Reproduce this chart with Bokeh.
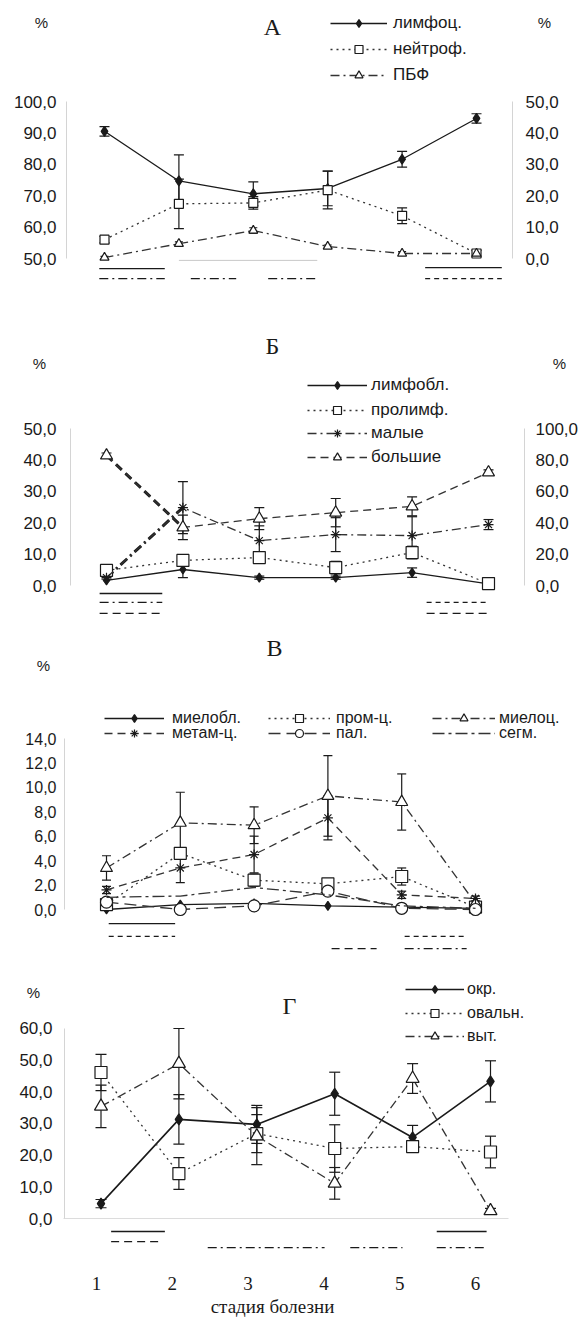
from bokeh.plotting import figure
from bokeh.models import (Range1d, LinearAxis, FixedTicker, CustomJSTickFormatter, Whisker, TeeHead,
                          ColumnDataSource, Legend, LegendItem, Label)
from bokeh.layouts import column
from bokeh.embed import file_html
from bokeh.resources import INLINE

# ---------------- DATA ----------------
stages = [1, 2, 3, 4, 5, 6]
x_tick_labels = ["1", "2", "3", "4", "5", "6"]

# Panel A (left axis 50-100 / right axis 0-50)
a_labels = ["лимфоц.", "нейтроф.", "ПБФ"]
a_lymph = [90.5, 74.7, 70.6, 72.3, 81.6, 94.6]
a_lymph_err = [1.5, 8.3, 3.8, 5.5, 2.5, 1.5]
a_neut = [6.0, 17.4, 17.7, 21.8, 13.6, 1.6]
a_neut_err = [1.0, 7.9, 2.0, 6.0, 2.5, 1.0]
a_pbf = [0.3, 4.7, 8.9, 3.8, 1.6, 1.6]
a_pbf_err = [0.4, 0.6, 0.9, 0.5, 0.6, 0.5]
a_left_ticks = [50, 60, 70, 80, 90, 100]
a_right_ticks = [0, 10, 20, 30, 40, 50]
a_sig_x0 = [0.93, 0.93, 2.16, 3.20, 5.31, 5.31]
a_sig_x1 = [1.81, 1.81, 2.77, 3.88, 6.34, 6.34]
a_sig_y = [46.8, 43.6, 43.6, 43.6, 47.1, 43.6]
a_sig_style = ["solid", "dashdot", "dashdot", "dashdot", "solid", "shortdash"]
a_base_x = [2.0, 3.86]
a_base_y = 49.4

# Panel B (left axis 0-50 / right axis 0-100)
b_labels = ["лимфобл.", "пролимф.", "малые", "большие"]
b_lymphobl = [1.6, 5.1, 2.5, 2.5, 4.1, 0.5]
b_lymphobl_err = [0, 2.6, 0.5, 0.5, 1.5, 0]
b_prolymph = [4.8, 8.0, 8.9, 5.7, 10.5, 0.6]
b_prolymph_err = [0.5, 1.5, 1.5, 2.0, 2.0, 0]
b_small = [2.5, 24.8, 14.3, 16.2, 15.9, 19.4]
b_small_err = [0.5, 8.3, 4.7, 5.4, 6.0, 1.6]
b_large = [41.4, 18.5, 21.3, 23.2, 25.2, 36.0]
b_large_err = [0.8, 3.9, 3.5, 4.5, 3.0, 0.8]
b_left_ticks = [0, 10, 20, 30, 40, 50]
b_right_ticks = [0, 20, 40, 60, 80, 100]
b_sig_x0 = [0.91, 0.91, 0.91, 5.19, 5.19]
b_sig_x1 = [1.73, 1.73, 1.73, 6.0, 6.0]
b_sig_y = [-2.55, -5.4, -8.9, -5.4, -8.9]
b_sig_style = ["solid", "dashdot", "dashed", "shortdash", "dashed"]

# Panel C (0-14)
c_labels = ["миелобл.", "пром-ц.", "миелоц.", "метам-ц.", "пал.", "сегм."]
c_myelobl = [0.0, 0.4, 0.5, 0.3, 0.2, 0.1]
c_prom = [0.4, 4.6, 2.4, 2.1, 2.7, 0.2]
c_prom_err = [0.3, 0.3, 0.5, 0.3, 0.7, 0]
c_myeloc = [3.4, 7.1, 6.9, 9.3, 8.8, 0.5]
c_myeloc_err = [1.0, 2.5, 1.5, 3.3, 2.3, 0]
c_metam = [1.6, 3.4, 4.5, 7.5, 1.2, 0.9]
c_metam_err = [0.3, 1.2, 1.5, 1.8, 0.3, 0.2]
c_pal = [0.6, 0.0, 0.3, 1.5, 0.1, 0.0]
c_segm = [1.0, 1.1, 1.8, 1.2, 0.3, 0.1]
c_ticks = [0, 2, 4, 6, 8, 10, 12, 14]
c_sig_x0 = [1.03, 1.03, 5.04, 4.05, 5.04]
c_sig_x1 = [1.93, 1.93, 5.88, 4.66, 5.88]
c_sig_y = [-1.15, -2.2, -2.2, -3.2, -3.2]
c_sig_style = ["solid", "shortdash", "shortdash", "dashed", "dashdot"]

# Panel D (0-60)
d_labels = ["окр.", "овальн.", "выт."]
d_round = [4.7, 31.3, 29.7, 39.4, 25.6, 43.3]
d_round_err = [1.3, 7.8, 6.0, 6.8, 3.8, 6.5]
d_oval = [46.1, 14.2, 26.8, 22.1, 22.7, 21.0]
d_oval_err = [5.7, 5.0, 6.0, 7.5, 1.5, 5.0]
d_elong = [35.4, 48.9, 26.0, 11.1, 44.2, 2.4]
d_elong_err = [6.7, 11.1, 9.0, 5.0, 4.7, 0.8]
d_ticks = [0, 10, 20, 30, 40, 50, 60]
d_sig_x0 = [1.13, 1.13, 2.37, 4.20, 5.31, 5.31]
d_sig_x1 = [1.82, 1.76, 3.87, 4.87, 5.95, 5.95]
d_sig_y = [-4.1, -7.3, -9.2, -9.2, -4.1, -9.2]
d_sig_style = ["solid", "dashed", "dashdot", "dashdot", "solid", "dashdot"]

# ---------------- STYLE ----------------
K = "#1a1a1a"
G = "#333333"
FS = "Liberation Sans"
SERIF = "Liberation Serif"
W = 584
PL, PR = 0, 584   # page x of the figure edges (bokeh page has no body margin)
DASH = {"solid": "solid", "dotted": "2 4", "dashed": "8 5", "shortdash": "5 4",
        "dashdot": "9 4 2 4", "longdash": "12 6", "dashdot2": "12 4 3 4"}


class Panel:
    def __init__(self, T, H, s1, k, v0, y0, m):
        self.T, self.H, self.B = T, H, T + H
        self.s1, self.k, self.v0, self.y0, self.m = s1, k, v0, y0, m
        xr = (1 - (s1 - PL) / k, 1 + (PR - s1) / k)
        yr = (v0 - (self.B - y0) / m, v0 + (y0 - T) / m)
        p = figure(width=W, height=H, output_backend="svg", toolbar_location=None,
                   x_range=Range1d(*xr), y_range=Range1d(*yr),
                   x_axis_location=None, y_axis_location="left")
        p.min_border_left = 0
        p.min_border_right = 0
        p.min_border_top = 0
        p.min_border_bottom = 0
        p.outline_line_color = None
        p.grid.visible = False
        p.background_fill_color = "white"
        p.border_fill_color = "white"
        self.p = p

    def xd(self, px):  # page x -> stage coordinate (for axis placement)
        return 1 + (px - self.s1) / self.k

    def yd(self, py):  # page y -> value coordinate (for axis placement)
        return self.v0 + (self.y0 - py) / self.m

    def txt(self, x, y, text, font=FS, size=15, align="center"):
        self.p.add_layout(Label(x=x - PL, y=self.B - y, x_units="screen", y_units="screen", text=text,
                                text_font=font, text_font_size=f"{size}px", text_align=align,
                                text_baseline="middle", text_color=K))

    def leg(self, label, renderers, gx0, gw, yc, standoff, size, h=20):
        lg = Legend(items=[LegendItem(label=label, renderers=renderers)],
                    location=(gx0 - PL, self.B - (yc + h / 2)), orientation="vertical",
                    padding=0, margin=0, spacing=0, glyph_width=gw, glyph_height=h,
                    label_height=h, label_standoff=standoff, label_text_font=FS,
                    label_text_font_size=f"{size}px", label_text_color=K,
                    border_line_color=None, background_fill_alpha=0)
        self.p.add_layout(lg)


def style_axis(ax, ticks, size, standoff):
    ax.ticker = FixedTicker(ticks=ticks)
    ax.formatter = CustomJSTickFormatter(code="return tick.toFixed(1).replace('.', ',');")
    ax.major_tick_line_color = None
    ax.minor_tick_line_color = None
    ax.major_tick_out = 0
    ax.major_tick_in = 0
    ax.axis_line_color = "#d4d4d4"
    ax.bounds = (min(ticks), max(ticks))
    ax.major_label_text_font = FS
    ax.major_label_text_font_size = f"{size}px"
    ax.major_label_text_color = K
    ax.major_label_standoff = standoff


def whisk(p, xs, ys, errs, head=10, y_range_name="default", lw=1.2):
    pts = [(x, y, e) for x, y, e in zip(xs, ys, errs) if e > 0]
    src = ColumnDataSource(dict(x=[q[0] for q in pts], u=[q[1] + q[2] for q in pts],
                                l=[q[1] - q[2] for q in pts]))
    w = Whisker(source=src, base="x", upper="u", lower="l", dimension="height",
                line_color=K, line_width=lw,
                upper_head=TeeHead(size=head, line_color=K, line_width=lw),
                lower_head=TeeHead(size=head, line_color=K, line_width=lw),
                y_range_name=y_range_name)
    p.add_layout(w)


def sig(p, x0, x1, y, styles, color=K, lw=1.3):
    for st in dict.fromkeys(styles):
        idx = [i for i, s in enumerate(styles) if s == st]
        p.segment([x0[i] for i in idx], [y[i] for i in idx], [x1[i] for i in idx], [y[i] for i in idx],
                  line_color=color, line_width=lw, line_dash=DASH[st])


def series(p, ys, dash, marker, size, fill, lw=1.3, color=K, rname="default"):
    ln = p.line(stages, ys, line_color=color, line_width=lw, line_dash=DASH[dash], y_range_name=rname)
    sc = p.scatter(stages, ys, marker=marker, size=size, fill_color=fill, line_color=K,
                   line_width=1.2, y_range_name=rname)
    return ln, sc


# ---------------- PANEL A ----------------
A = Panel(0, 300, 104, 74.4, 50, 258, 3.14)
pA = A.p
ra = pA.y_range
pA.extra_y_ranges = {"r": Range1d(ra.start - 50, ra.end - 50)}
style_axis(pA.yaxis[0], a_left_ticks, 17, 10)
pA.yaxis[0].fixed_location = A.xd(66)
axr = LinearAxis(y_range_name="r", fixed_location=A.xd(512))
style_axis(axr, a_right_ticks, 17, 13)
pA.add_layout(axr, "right")

sig(pA, a_sig_x0, a_sig_x1, a_sig_y, a_sig_style)
pA.segment([a_base_x[0]], [a_base_y], [a_base_x[1]], [a_base_y], line_color="#c8c8c8", line_width=1)
whisk(pA, stages, a_lymph, a_lymph_err, head=10)
whisk(pA, stages, a_neut, a_neut_err, head=10, y_range_name="r")
whisk(pA, stages, a_pbf, a_pbf_err, head=8, y_range_name="r")
lA1 = series(pA, a_lymph, "solid", "diamond", 10, K)
lA2 = series(pA, a_neut, "dotted", "square", 9, "white", color=G, rname="r")
lA3 = series(pA, a_pbf, "dashdot", "triangle", 9, "white", color=G, rname="r")
for lab, r, yc in zip(a_labels, [lA1, lA2, lA3], [23, 49, 75]):
    A.leg(lab, list(r), 330, 57, yc, 6, 17)
A.txt(41, 22, "%")
A.txt(544, 22, "%")
A.txt(272, 26, "А", font=SERIF, size=24)

# ---------------- PANEL B ----------------
B = Panel(300, 320, 106, 76.4, 0, 585, 3.14)
pB = B.p
rb = pB.y_range
pB.extra_y_ranges = {"r": Range1d(rb.start * 2, rb.end * 2)}
style_axis(pB.yaxis[0], b_left_ticks, 17, 14)
pB.yaxis[0].fixed_location = B.xd(70)
bxr = LinearAxis(y_range_name="r", fixed_location=B.xd(524))
style_axis(bxr, b_right_ticks, 17, 11)
pB.add_layout(bxr, "right")

sig(pB, b_sig_x0, b_sig_x1, b_sig_y, b_sig_style)
whisk(pB, stages, b_lymphobl, b_lymphobl_err)
whisk(pB, stages, b_prolymph, b_prolymph_err)
whisk(pB, stages, b_small, b_small_err)
whisk(pB, stages, b_large, b_large_err)
# heavier first segment as in the scan
pB.line(stages[:2], b_large[:2], line_color=K, line_width=3, line_dash=DASH["dashed"])
pB.line(stages[:2], b_small[:2], line_color=K, line_width=3, line_dash=DASH["dashdot"])
lB1 = series(pB, b_lymphobl, "solid", "diamond", 9, K)
lB2 = series(pB, b_prolymph, "dotted", "square", 12, "white", color=G)
lB3 = series(pB, b_small, "dashdot", "asterisk", 10, "white", color=G)
lB4 = series(pB, b_large, "dashed", "triangle", 12, "white", color=G)
for lab, r, yc in zip(b_labels, [lB1, lB2, lB3, lB4], [385, 410, 433, 457]):
    B.leg(lab, list(r), 307, 60, yc, 4, 17)
B.txt(39, 363, "%")
B.txt(559, 363, "%")
B.txt(272, 345, "Б", font=SERIF, size=24)

# ---------------- PANEL C ----------------
C = Panel(620, 340, 106, 73.8, 0, 909, 12.214)
pC = C.p
style_axis(pC.yaxis[0], c_ticks, 16, 8)
pC.yaxis[0].fixed_location = C.xd(64)

sig(pC, c_sig_x0, c_sig_x1, c_sig_y, c_sig_style)
whisk(pC, stages, c_prom, c_prom_err, head=9)
whisk(pC, stages, c_myeloc, c_myeloc_err, head=9)
whisk(pC, stages, c_metam, c_metam_err, head=9)
lC1 = series(pC, c_myelobl, "solid", "diamond", 9, K)
lC2 = series(pC, c_prom, "dotted", "square", 12, "white", color=G)
lC3 = series(pC, c_myeloc, "dashdot", "triangle", 12, "white", color=G)
lC4 = series(pC, c_metam, "dashed", "asterisk", 10, "white", color=G)
lC5 = series(pC, c_pal, "longdash", "circle", 12, "white", color=G)
lC6 = (pC.line(stages, c_segm, line_color=G, line_width=1.3, line_dash=DASH["dashdot2"]),)
c_leg_x = [104, 268, 432, 104, 268, 432]
c_leg_w = [60, 62, 63, 60, 62, 63]
c_leg_so = [8, 6, 4, 8, 6, 4]
c_leg_y = [718, 718, 718, 733, 733, 733]
for lab, r, gx, gw, so, yc in zip(c_labels, [lC1, lC2, lC3, lC4, lC5, lC6], c_leg_x, c_leg_w, c_leg_so, c_leg_y):
    C.leg(lab, list(r), gx, gw, yc, so, 16)
C.txt(43, 665, "%")
C.txt(274, 647, "В", font=SERIF, size=24)

# ---------------- PANEL D ----------------
D = Panel(960, 359, 100.5, 77.9, 0, 1218, 3.1667)
pD = D.p
style_axis(pD.yaxis[0], d_ticks, 17, 12)
pD.yaxis[0].fixed_location = D.xd(64)
lab_k = 75.8
lab_s1 = 96
pD.extra_x_ranges = {"lab": Range1d(1 - (lab_s1 - PL) / lab_k, 1 + (PR - lab_s1) / lab_k)}
xa = LinearAxis(x_range_name="lab", fixed_location=D.yd(1251))
xa.ticker = FixedTicker(ticks=stages)
xa.major_label_overrides = {s: t for s, t in zip(stages, x_tick_labels)}
xa.major_tick_line_color = None
xa.minor_tick_line_color = None
xa.major_tick_out = 0
xa.major_tick_in = 0
xa.axis_line_color = None
xa.major_label_text_font = SERIF
xa.major_label_text_font_size = "19px"
xa.major_label_text_color = K
xa.major_label_standoff = 25
pD.add_layout(xa, "below")
pD.segment([D.xd(63)], [0], [D.xd(508)], [0], line_color="#dcdcdc", line_width=1)

sig(pD, d_sig_x0, d_sig_x1, d_sig_y, d_sig_style)
whisk(pD, stages, d_round, d_round_err, head=11)
whisk(pD, stages, d_oval, d_oval_err, head=11)
whisk(pD, stages, d_elong, d_elong_err, head=11)
lD1 = series(pD, d_round, "solid", "diamond", 11, K, lw=1.6)
lD2 = series(pD, d_oval, "dotted", "square", 12, "white", color=G)
lD3 = series(pD, d_elong, "dashdot", "triangle", 13, "white", color=G)
for lab, r, yc in zip(d_labels, [lD1, lD2, lD3], [989, 1013, 1036]):
    D.leg(lab, list(r), 405, 59, yc, 3, 16)
D.txt(33, 992, "%")
D.txt(289, 1005, "Г", font=SERIF, size=24)
D.txt(272, 1306, "стадия болезни", font=SERIF, size=19)

layout = column(pA, pB, pC, pD, spacing=0)
open("out.html", "w").write(file_html(layout, INLINE))
